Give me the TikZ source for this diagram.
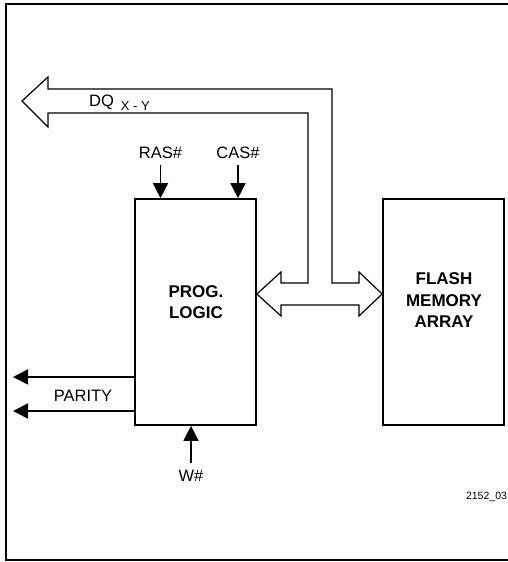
\documentclass[tikz,border=0pt]{standalone}
\usepackage{fontspec}
\setmainfont{Liberation Sans}
\usetikzlibrary{arrows.meta}

\tikzset{
  blk/.style={draw, line width=1.7pt, minimum width=121pt, minimum height=226pt, inner sep=0pt},
  txt/.style={font=\fontsize{16.5}{21}\selectfont, inner sep=0pt},
  btxt/.style={font=\fontsize{17}{21.5}\selectfont\bfseries, align=center, inner sep=0pt},
  sig/.style={line width=1.6pt, -{Triangle[length=15pt,width=15pt]}},
  bus/.style={line width=1.2pt, line join=miter},
}

\begin{document}
\begin{tikzpicture}[x=1pt,y=-1pt]
  \useasboundingbox (0,0) rectangle (508,562);
  % frame, open on the right
  \draw[line width=2pt] (508,4) -- (6,4) -- (6,560) -- (508,560);

  % blocks
  \node[blk] (prog) at (195.5,312) {};
  \node[blk] (flash) at (443.5,312) {};
  \node[btxt] (progtxt) at (196,302) {PROG.\\LOGIC};
  \node[btxt] (flashtxt) at (444,300.5) {FLASH\\MEMORY\\ARRAY};

  % data bus
  \draw[bus] (22,101) -- (48,77) -- (48,89) -- (332,89) -- (332,283)
    -- (359,283) -- (359,272) -- (flash.west |- 0,294) -- (359,316) -- (359,305)
    -- (281,305) -- (281,316) -- (prog.east |- 0,294) -- (281,272) -- (281,283)
    -- (308,283) -- (308,113) -- (48,113) -- (48,127) -- cycle;
  \node[txt, anchor=base west] (dq) at (89,106.7)
    {DQ\hspace{7pt}\raisebox{-3.5pt}{\fontsize{13}{13}\selectfont X - Y}};

  % control inputs
  \node[txt] (ras) at (160.5,153) {RAS\#};
  \node[txt] (cas) at (238,153) {CAS\#};
  \node[txt] (w) at (191,476) {W\#};
  \coordinate (rasin) at (160.5,165);
  \coordinate (casin) at (238,165);
  \coordinate (win) at (191,463);
  \draw[sig] (rasin) -- (rasin |- prog.north);
  \draw[sig] (casin) -- (casin |- prog.north);
  \draw[sig] (win) -- (win |- prog.south);

  % parity outputs
  \node[txt] (par) at (83,396) {PARITY};
  \coordinate (parA) at (13,377);
  \coordinate (parB) at (13,411);
  \draw[sig] (parA -| prog.west) -- (parA);
  \draw[sig] (parB -| prog.west) -- (parB);

  \node[font=\fontsize{10.5}{12}\selectfont, inner sep=0pt] (figno) at (486.5,497) {2152\_03};
\end{tikzpicture}
\end{document}
